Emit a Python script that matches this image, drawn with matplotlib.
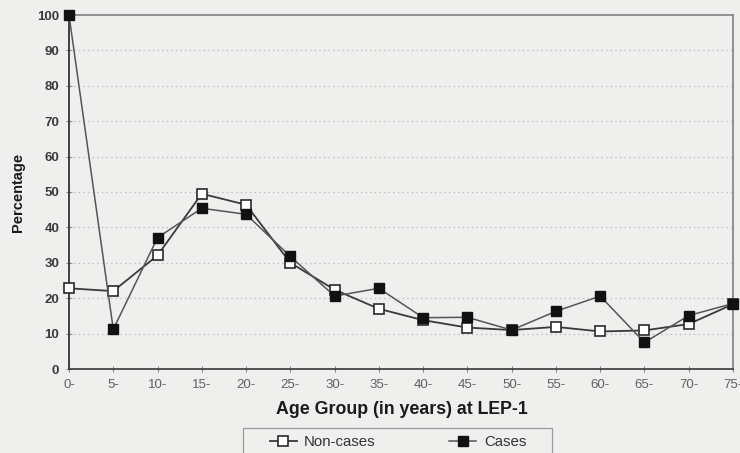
import matplotlib.pyplot as plt
from matplotlib.patches import Rectangle
import numpy as np

plt.rcParams['font.family'] = ['Liberation Sans', 'DejaVu Sans']

# age groups at LEP-1
age_groups = ['0-', '5-', '10-', '15-', '20-', '25-', '30-', '35-',
              '40-', '45-', '50-', '55-', '60-', '65-', '70-', '75-']
non_cases = [22.8, 22.0, 32.1, 49.5, 46.4, 30.0, 22.4, 17.0,
             13.8, 11.7, 11.0, 11.9, 10.6, 10.9, 12.7, 18.3]
cases = [100.0, 11.2, 37.1, 45.4, 43.7, 31.8, 20.6, 22.8,
         14.5, 14.6, 11.0, 16.3, 20.6, 7.5, 15.1, 18.5]
y_ticks = [0, 10, 20, 30, 40, 50, 60, 70, 80, 90, 100]

bg = '#efefed'
fig = plt.figure(figsize=(7.4, 4.53), dpi=100, facecolor=bg)
ax = fig.add_axes([69 / 740, 1 - 369 / 453, 664 / 740, 354 / 453])
ax.set_facecolor(bg)

x = np.arange(len(age_groups))

ax.plot(x, non_cases, color='#3a3a3a', lw=1.3, marker='s', ms=7.5,
        mfc='white', mec='#2a2a2a', mew=1.2, label='Non-cases', zorder=3,
        clip_on=False)
ax.plot(x, cases, color='#555555', lw=1.1, marker='s', ms=7.5,
        mfc='#111111', mec='#111111', label='Cases', zorder=4,
        clip_on=False)

ax.set_xlim(0, len(age_groups) - 1)
ax.set_ylim(0, 100)
ax.set_xticks(x)
ax.set_xticklabels(age_groups)
ax.set_yticks(y_ticks)

for v in y_ticks[1:-1]:
    ax.axhline(v, color='#bdbdbd', lw=0.9, ls=(0, (1.2, 2.5)), zorder=1)

ax.spines['left'].set_color('#333333')
ax.spines['bottom'].set_color('#444444')
ax.spines['left'].set_linewidth(1.3)
ax.spines['bottom'].set_linewidth(1.3)
ax.spines['top'].set_color('#8a8a8a')
ax.spines['right'].set_color('#8a8a8a')
ax.spines['top'].set_linewidth(1.3)
ax.spines['right'].set_linewidth(1.3)

ax.tick_params(axis='x', direction='inout', length=4, width=0.8,
               colors='#888888', labelcolor='#606060', labelsize=9.5, pad=5)
ax.tick_params(axis='y', direction='inout', length=4, width=0.8,
               colors='#888888', labelcolor='#3a3a3a', labelsize=9.5, pad=5)
for lab in ax.get_yticklabels():
    lab.set_fontweight('bold')

fig.text(402 / 740, 1 - 410 / 453, 'Age Group (in years) at LEP-1',
         ha='center', va='center', fontsize=12.8, fontweight='bold',
         color='#1a1a1a')
fig.text(18 / 740, 1 - 192 / 453, 'Percentage', ha='center', va='center',
         rotation=90, fontsize=10.5, fontweight='bold', color='#1a1a1a')

# legend box, cut by the bottom edge as in the original
fig.patches.append(Rectangle((243 / 740, 1 - 470 / 453), 309 / 740, 42 / 453,
                             transform=fig.transFigure, fill=False,
                             edgecolor='#9a9a9a', lw=0.9))
leg = fig.legend(loc='center', bbox_to_anchor=(398 / 740, 1 - 442 / 453),
                 ncol=2, fontsize=10.8, frameon=False,
                 columnspacing=4.9, handlelength=1.8, handletextpad=0.5)
for t in leg.get_texts():
    t.set_color('#333333')

plt.savefig('out.png', dpi=100, facecolor=bg)
